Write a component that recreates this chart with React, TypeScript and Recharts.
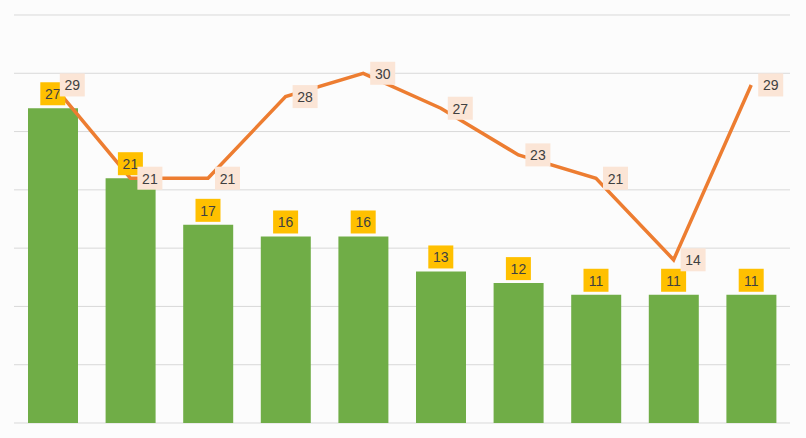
import React from 'react';
import {
  ComposedChart,
  Bar,
  Line,
  XAxis,
  YAxis,
  CartesianGrid,
  LabelList,
} from 'recharts';

const categories = ['1', '2', '3', '4', '5', '6', '7', '8', '9', '10'];
const barValues = [27, 21, 17, 16, 16, 13, 12, 11, 11, 11];
const lineValues = [29, 21, 21, 28, 30, 27, 23, 21, 14, 29];
const yTicks = [0, 5, 10, 15, 20, 25, 30, 35];

const data = categories.map((name, i) => ({
  name,
  bar: barValues[i],
  line: lineValues[i],
}));

const FONT = '"Liberation Sans", Arial, sans-serif';

// gold box centred above each bar
const BarLabel = (props: any) => {
  const { x, y, value } = props;
  if (x == null || y == null) return null;
  return (
    <g>
      <rect x={x - 12.5} y={y - 26} width={25} height={23} fill="#FFC000" />
      <text
        x={x}
        y={y - 14}
        textAnchor="middle"
        dominantBaseline="central"
        fontFamily={FONT}
        fontSize={14}
        fill="#404040"
      >
        {value}
      </text>
    </g>
  );
};

// peach box to the right of each line point
const LineLabel = (props: any) => {
  const { x, y, value } = props;
  if (x == null || y == null) return null;
  return (
    <g>
      <rect x={x + 7} y={y - 11.5} width={25} height={23} fill="#FBE5D6" />
      <text
        x={x + 19.5}
        y={y + 0.5}
        textAnchor="middle"
        dominantBaseline="central"
        fontFamily={FONT}
        fontSize={14}
        fill="#404040"
      >
        {value}
      </text>
    </g>
  );
};

export default function App() {
  return (
    <div
      style={{
        position: 'absolute',
        left: 0,
        top: 0,
        width: 806,
        height: 438,
        background: '#fcfcfc',
      }}
    >
      <ComposedChart
        width={806}
        height={438}
        data={data}
        margin={{ top: 15, right: 16, bottom: 15, left: 14 }}
        barCategoryGap="18%"
      >
        <CartesianGrid vertical={false} stroke="#d9d9d9" />
        <XAxis dataKey="name" hide />
        <YAxis hide domain={[0, 35]} ticks={yTicks} />
        <Bar dataKey="bar" fill="#70AD47" barSize={50} isAnimationActive={false} />
        <Line
          dataKey="line"
          stroke="#ED7D31"
          strokeWidth={3.5}
          dot={false}
          activeDot={false}
          type="linear"
          isAnimationActive={false}
        />
        {/* invisible series used only to stack the labels above the line */}
        <Line
          dataKey="bar"
          stroke="none"
          dot={false}
          activeDot={false}
          legendType="none"
          isAnimationActive={false}
        >
          <LabelList dataKey="bar" content={BarLabel} />
        </Line>
        <Line
          dataKey="line"
          stroke="none"
          dot={false}
          activeDot={false}
          legendType="none"
          isAnimationActive={false}
        >
          <LabelList dataKey="line" content={LineLabel} />
        </Line>
      </ComposedChart>
    </div>
  );
}
